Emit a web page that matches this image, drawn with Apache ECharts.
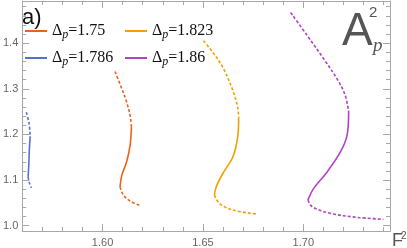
<!DOCTYPE html>
<html><head><meta charset="utf-8">
<script src="https://cdn.jsdelivr.net/npm/echarts@6/dist/echarts.min.js"></script>
<style>html,body{margin:0;padding:0;background:#fff}#c{width:407px;height:248px}</style>
</head><body><div id="c"></div>
<script>
// ---- data ----
var names = ['1.75', '1.786', '1.823', '1.86'];
var colors = ['#E8641E', '#5670D6', '#F0A000', '#B044C4'];
// each curve: upper dashed branch, middle solid branch, lower dashed branch  [F^2, A_p^2]
var d175Top = [[1.6062,1.3378],[1.6096,1.300],[1.6120,1.2707],[1.6137,1.2417],[1.6144,1.216]];
var d175Mid = [[1.6144,1.216],[1.6137,1.176],[1.6120,1.140],[1.6096,1.1107],[1.6087,1.085]];
var d175Bot = [[1.6087,1.085],[1.6104,1.067],[1.6137,1.054],[1.6183,1.045]];
var d1786Top = [[1.5620,1.2489],[1.5634,1.2236],[1.5639,1.1960]];
var d1786Mid = [[1.5639,1.1960],[1.5635,1.165],[1.5632,1.129],[1.5629,1.107]];
var d1786Bot = [[1.5629,1.107],[1.5634,1.096],[1.5645,1.083]];
var d1823Top = [[1.6503,1.4055],[1.6549,1.380],[1.6599,1.347],[1.6649,1.2963],[1.6673,1.260],[1.6678,1.2367]];
var d1823Mid = [[1.6678,1.2367],[1.6673,1.1943],[1.6649,1.1507],[1.6599,1.1144],[1.6566,1.085],[1.6557,1.067]];
var d1823Bot = [[1.6557,1.067],[1.6582,1.049],[1.6649,1.0343],[1.6772,1.0255]];
var d186Top = [[1.6937,1.4672],[1.7020,1.4164],[1.7102,1.3655],[1.7168,1.3218],[1.7209,1.2854],[1.7226,1.2489]];
var d186Mid = [[1.7226,1.2489],[1.7218,1.198],[1.7185,1.1616],[1.7119,1.1179],[1.7052,1.0817],[1.7023,1.0561]];
var d186Bot = [[1.7023,1.0561],[1.7045,1.0415],[1.7135,1.0271],[1.7267,1.0183],[1.7399,1.014]];
// ---- ticks ----
var xMajor = [1.60, 1.65, 1.70];
var xMinor = [1.56,1.57,1.58,1.59,1.60,1.61,1.62,1.63,1.64,1.65,1.66,1.67,1.68,1.69,1.70,1.71,1.72,1.73,1.74];
var yMajor = [1.0, 1.1, 1.2, 1.3, 1.4];
var yMinor = [1.00,1.02,1.04,1.06,1.08,1.10,1.12,1.14,1.16,1.18,1.20,1.22,1.24,1.26,1.28,1.30,1.32,1.34,1.36,1.38,1.40,1.42,1.44,1.46,1.48];
var xMin = 1.56, xMax = 1.7432, yMin = 0.9884, yMax = 1.4924;

var curves = [[d175Top,d175Mid,d175Bot],[d1786Top,d1786Mid,d1786Bot],[d1823Top,d1823Mid,d1823Bot],[d186Top,d186Mid,d186Bot]];

var frame = '#a8a8a8';
function xAx(pos, ticks, len, showLine, showLabel) {
  return {type:'value', position:pos, min:xMin, max:xMax,
    axisLine:{show:showLine, onZero:false, lineStyle:{color:frame, width:1}},
    axisTick:{show:true, inside:true, length:len, customValues:ticks, lineStyle:{color:frame}},
    axisLabel:{show:showLabel, customValues:xMajor, margin:6, color:'#666', fontFamily:'Liberation Sans', fontSize:11,
      formatter:function(v){return v.toFixed(2);}},
    splitLine:{show:false}};
}
function yAx(pos, ticks, len, showLine, showLabel) {
  return {type:'value', position:pos, min:yMin, max:yMax,
    axisLine:{show:showLine, onZero:false, lineStyle:{color:frame, width:1}},
    axisTick:{show:true, inside:true, length:len, customValues:ticks, lineStyle:{color:frame}},
    axisLabel:{show:showLabel, customValues:yMajor, margin:4, color:'#666', fontFamily:'Liberation Sans', fontSize:11,
      formatter:function(v){return v.toFixed(1);}},
    splitLine:{show:false}};
}

var series = [];
curves.forEach(function(c, i){
  c.forEach(function(seg, k){
    series.push({type:'line', name:names[i], data:seg, xAxisIndex:0, yAxisIndex:0,
      smooth:0.35, showSymbol:false, symbol:'none', color:colors[i],
      lineStyle:{color:colors[i], width:1.6, type: k===1 ? 'solid' : [3,2]},
      z: 5});
  });
});

var rich = {
  d:{fontFamily:'Liberation Serif', fontSize:16, color:'#111'},
  s:{fontFamily:'Liberation Serif', fontStyle:'italic', fontSize:12, color:'#111', padding:[7,0,0,0]},
  e:{fontFamily:'Liberation Serif', fontSize:16, color:'#111'}
};
var legPos = [[25,23],[25,50],[125,23],[125,50]];
var legends = names.map(function(n, i){
  return {data:[n], left:legPos[i][0], top:legPos[i][1], padding:0, icon:'rect', itemWidth:22, itemHeight:2,
    selectedMode:false,
    formatter:function(name){return '{d|\u0394}{s|p}{e|=' + name + '}';},
    textStyle:{rich:rich}};
});

var chart = echarts.init(document.getElementById('c'), null, {renderer:'canvas'});
chart.setOption({
  animation:false,
  backgroundColor:'#fff',
  grid:{left:19, right:17, top:1, bottom:17, containLabel:false},
  xAxis:[xAx('bottom', xMinor, 4, true, true), xAx('bottom', xMajor, 7, false, false),
         xAx('top', xMinor, 4, true, false), xAx('top', xMajor, 7, false, false)],
  yAxis:[yAx('left', yMinor, 4, true, true), yAx('left', yMajor, 7, false, false),
         yAx('right', yMinor, 4, true, false), yAx('right', yMajor, 7, false, false)],
  legend:legends,
  series:series,
  graphic:[
    {type:'text', left:22, top:7, style:{text:'a)', font:'22px "Liberation Sans"', fill:'#111'}},
    {type:'text', x:342, y:9, style:{text:'A', font:'46px "Liberation Sans"', fill:'#555'}},
    {type:'text', x:369, y:5, style:{text:'2', font:'15px "Liberation Sans"', fill:'#555'}},
    {type:'text', x:373, y:36, style:{text:'p', font:'italic 19px "Liberation Serif"', fill:'#555'}},
    {type:'text', x:392, y:232, style:{text:'F', font:'18px "Liberation Sans"', fill:'#555'}},
    {type:'text', x:401, y:231, style:{text:'2', font:'10px "Liberation Sans"', fill:'#555'}}
  ]
});
</script></body></html>
